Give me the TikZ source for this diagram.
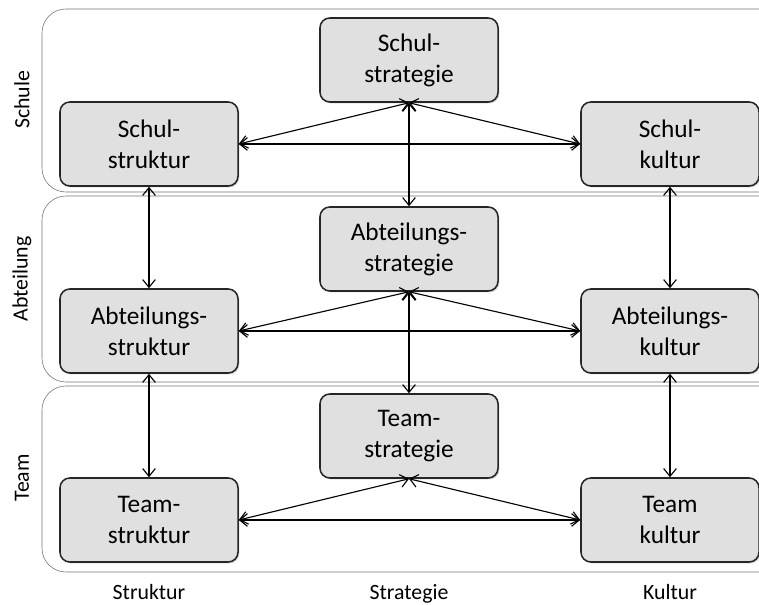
\documentclass[tikz,border=0pt]{standalone}
\usepackage{fontspec}
\setmainfont{Carlito}
\usepackage{tikz}
\usetikzlibrary{arrows.meta, shadows}

\begin{document}
\begin{tikzpicture}[
    x=0.025cm, y=0.025cm,
    box/.style   = {draw=black!85, rectangle, rounded corners=7pt, line width=1.1pt,
                    fill=black!12, minimum width=4.45cm, minimum height=2.1cm,
                    align=center, font=\fontsize{18}{22}\selectfont,
                    drop shadow={opacity=0.35, shadow xshift=1pt, shadow yshift=-1pt}},
    band/.style  = {draw=black!55, rounded corners=17pt},
    side/.style  = {rotate=90, font=\fontsize{15.5}{18}\selectfont},
    axis/.style  = {anchor=base, font=\fontsize{15.5}{18}\selectfont},
    arr/.style   = {{Straight Barb[length=5.5pt, width=9pt]}-{Straight Barb[length=5.5pt, width=9pt]}, thick}
  ]
    \clip (0,0) rectangle (759,605);

    % Ebenen
    \draw[band] (42,413) rectangle (800,596);
    \draw[band] (42,223) rectangle (800,409);
    \draw[band] (42,33)  rectangle (800,219);

    \node[side] (schule)    at (22,505) {Schule};
    \node[side] (abteilung) at (22,326) {Abteilung};
    \node[side] (team)      at (22,127) {Team};

    % Schule
    \node[box] (sstrat) at (409,545) {Schul-\\strategie};
    \node[box] (sstruk) at (149,461) {Schul-\\struktur};
    \node[box] (skult)  at (670,461) {Schul-\\kultur};

    % Abteilung
    \node[box] (astrat) at (409,356) {Abteilungs-\\strategie};
    \node[box] (astruk) at (149,274) {Abteilungs-\\struktur};
    \node[box] (akult)  at (670,274) {Abteilungs-\\kultur};

    % Team
    \node[box] (tstrat) at (409,169) {Team-\\strategie};
    \node[box] (tstruk) at (149,85)  {Team-\\struktur};
    \node[box] (tkult)  at (670,85)  {Team\\kultur};

    \node[axis] (struktur)  at (149,5) {Struktur};
    \node[axis] (strategie) at (409,5) {Strategie};
    \node[axis] (kultur)    at (670,5) {Kultur};

    % Verbindungen
    \draw[arr] (sstrat.south) -- (sstruk.east);
    \draw[arr] (sstrat.south) -- (skult.west);
    \draw[arr] (sstruk.east)  -- (skult.west);
    \draw[arr] (sstrat.south) -- (astrat.north);
    \draw[arr] (sstruk.south) -- (astruk.north);
    \draw[arr] (skult.south)  -- (akult.north);

    \draw[arr] (astrat.south) -- (astruk.east);
    \draw[arr] (astrat.south) -- (akult.west);
    \draw[arr] (astruk.east)  -- (akult.west);
    \draw[arr] (astrat.south) -- (tstrat.north);
    \draw[arr] (astruk.south) -- (tstruk.north);
    \draw[arr] (akult.south)  -- (tkult.north);

    \draw[arr] (tstrat.south) -- (tstruk.east);
    \draw[arr] (tstrat.south) -- (tkult.west);
    \draw[arr] (tstruk.east)  -- (tkult.west);
  \end{tikzpicture}
\end{document}
